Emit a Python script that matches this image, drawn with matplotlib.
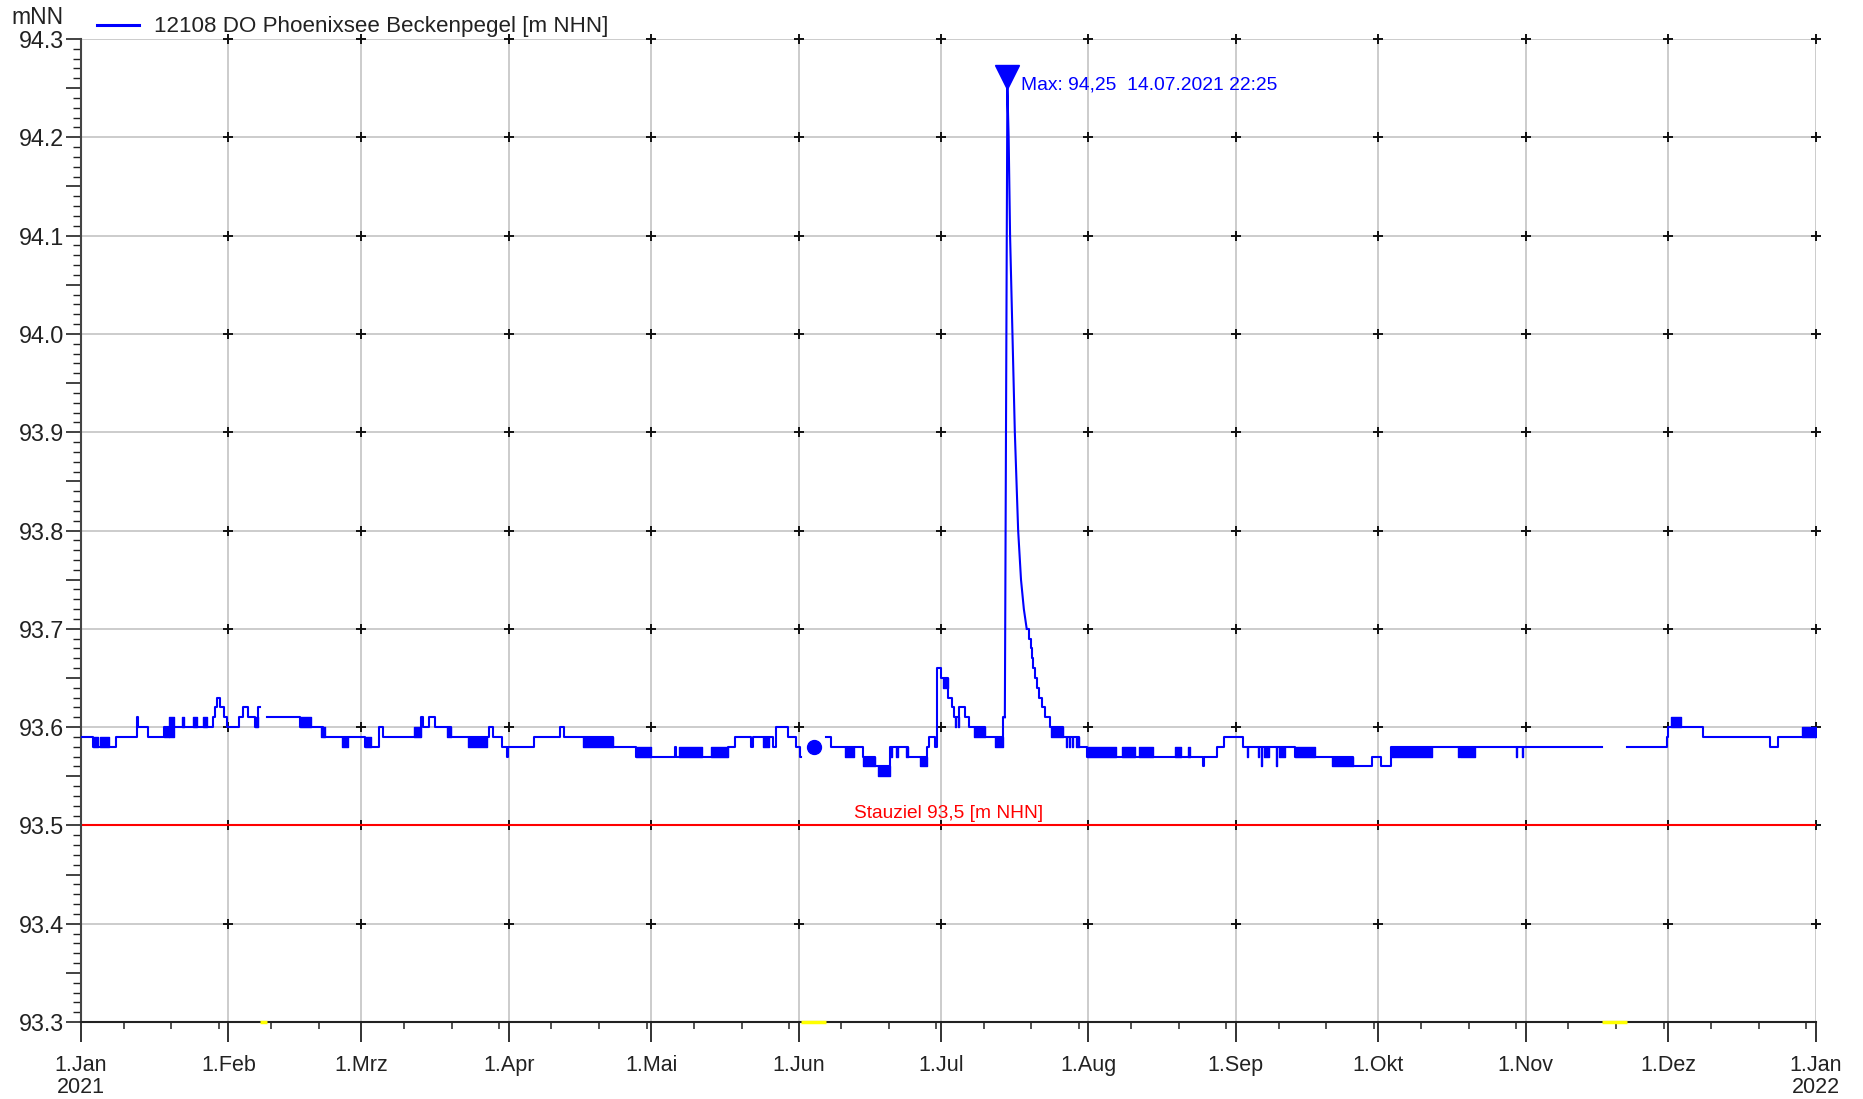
import numpy as np
import matplotlib
matplotlib.use("Agg")
import matplotlib.pyplot as plt
import matplotlib.dates as mdates
from matplotlib.ticker import MultipleLocator, FuncFormatter
from matplotlib.lines import Line2D
from matplotlib.transforms import offset_copy, blended_transform_factory

plt.rcParams['font.family'] = ['Liberation Sans', 'DejaVu Sans']

# ---------------- data ----------------
START = np.datetime64('2021-01-01T00:00')

# x axis: month starts and their labels
month_starts = ['2021-01-01', '2021-02-01', '2021-03-01', '2021-04-01', '2021-05-01',
                '2021-06-01', '2021-07-01', '2021-08-01', '2021-09-01', '2021-10-01',
                '2021-11-01', '2021-12-01', '2022-01-01']
month_labels = ['1.Jan\n2021', '1.Feb', '1.Mrz', '1.Apr', '1.Mai', '1.Jun', '1.Jul',
                '1.Aug', '1.Sep', '1.Okt', '1.Nov', '1.Dez', '1.Jan\n2022']
y_levels = [93.3, 93.4, 93.5, 93.6, 93.7, 93.8, 93.9, 94.0, 94.1, 94.2, 94.3]

# water level, step series (days since 1.Jan 2021, m NHN); NaN = data gap
step_day = [0.3, 2.6, 7.3, 11.7, 11.9, 14.2, 17.4, 27.7, 28.1, 28.7, 29.3, 30.0, 30.8,
            33.2, 34.0, 35.2, 36.6, 37.3, 37.7,
            39.1, 46.1, 50.9, 59.7, 62.7, 63.5, 71.6, 72.0, 73.2, 74.4, 77.9, 85.9,
            86.6, 88.6, 89.6, 89.8, 95.4, 100.7, 101.7, 112.0, 116.7,
            125.0, 125.15, 136.1, 137.7, 140.9, 141.4, 145.6, 146.2, 148.8, 150.4,
            151.3, 151.5,
            156.7, 157.9, 164.6, 167.0, 170.2, 174.1, 178.1, 178.5, 179.6, 180.1,
            180.9, 182.4, 183.2, 183.6, 184.8, 186.0, 186.8, 190.3, 194.1, 194.4,
            199.0, 199.4, 199.8, 200.1, 200.4, 200.7, 201.1, 201.6, 202.2, 202.9,
            203.8, 206.6, 210.1, 211.7, 236.2, 236.4, 239.0, 240.6, 244.5, 255.4,
            267.7, 271.6, 273.6, 275.6, 320.1,
            325.3, 333.7, 334.0, 341.3, 355.5, 357.1, 365.0]
step_level = [93.59, 93.58, 93.59, 93.61, 93.60, 93.59, 93.60, 93.61, 93.62, 93.63, 93.62,
              93.61, 93.60, 93.61, 93.62, 93.61, 93.60, 93.62, np.nan,
              93.61, 93.60, 93.59, 93.58, 93.60, 93.59, 93.61, 93.60, 93.61, 93.60,
              93.59, 93.60, 93.59, 93.58, 93.57, 93.58, 93.59, 93.60, 93.59, 93.58,
              93.57,
              93.58, 93.57, 93.58, 93.59, 93.58, 93.59, 93.58, 93.60, 93.59, 93.58,
              93.57, np.nan,
              93.59, 93.58, 93.57, 93.56, 93.58, 93.57, 93.58, 93.59, 93.58, 93.66,
              93.65, 93.63, 93.62, 93.61, 93.62, 93.61, 93.60, 93.59, 93.61, np.nan,
              93.70, 93.69, 93.68, 93.67, 93.66, 93.65, 93.64, 93.63, 93.62, 93.61,
              93.60, 93.59, 93.58, 93.57, 93.56, 93.57, 93.58, 93.59, 93.58, 93.57,
              93.56, 93.57, 93.56, 93.58, np.nan,
              93.58, 93.59, 93.60, 93.59, 93.58, 93.59, 93.59]

# rapid flicker between two levels: start day, end day, low, high
flick_start = [2.6, 3.9, 17.4, 18.6, 21.3, 23.6, 25.7, 36.6, 46.1, 50.6, 55.0, 59.7,
               70.0, 77.1, 81.5, 105.6, 116.7, 125.8, 132.6, 143.6, 160.7, 164.6,
               167.8, 170.2, 171.6, 173.6, 176.5, 181.4, 183.9, 184.5, 188.0, 192.3,
               204.2, 207.2, 207.9, 208.6, 209.3, 211.7, 219.0, 222.6, 230.3, 232.9,
               245.3, 247.7, 248.4, 249.0, 251.4, 252.0, 255.4, 263.3, 275.6, 289.7,
               290.2, 301.9, 303.3, 334.6, 362.2]
flick_end = [3.5, 5.9, 18.6, 19.5, 21.7, 24.5, 26.5, 37.3, 48.3, 51.3, 56.2, 61.0,
             71.6, 77.9, 85.5, 112.0, 119.9, 130.6, 136.1, 144.8, 162.6, 167.0,
             170.2, 170.6, 172.0, 174.1, 178.1, 182.4, 184.1, 184.7, 190.3, 194.1,
             206.6, 207.4, 208.1, 208.8, 210.1, 217.7, 221.8, 225.6, 231.5, 233.4,
             245.5, 247.9, 248.6, 249.9, 251.6, 253.3, 259.7, 267.7, 284.3, 289.9,
             293.4, 302.1, 303.5, 336.7, 365.0]
flick_low = [93.58, 93.58, 93.59, 93.59, 93.60, 93.60, 93.60, 93.60, 93.60, 93.59, 93.58,
             93.58, 93.59, 93.59, 93.58, 93.58, 93.57, 93.57, 93.57, 93.58, 93.57, 93.56,
             93.55, 93.57, 93.57, 93.57, 93.56, 93.64, 93.60, 93.60, 93.59, 93.58,
             93.59, 93.58, 93.58, 93.58, 93.58, 93.57, 93.57, 93.57, 93.57, 93.57,
             93.57, 93.57, 93.56, 93.57, 93.56, 93.57, 93.57, 93.56, 93.57, 93.57,
             93.57, 93.57, 93.57, 93.60, 93.59]
flick_high = [93.59, 93.59, 93.60, 93.61, 93.61, 93.61, 93.61, 93.61, 93.61, 93.60, 93.59,
              93.59, 93.60, 93.60, 93.59, 93.59, 93.58, 93.58, 93.58, 93.59, 93.58, 93.57,
              93.56, 93.58, 93.58, 93.58, 93.57, 93.65, 93.61, 93.61, 93.60, 93.59,
              93.60, 93.59, 93.59, 93.59, 93.59, 93.58, 93.58, 93.58, 93.58, 93.58,
              93.58, 93.58, 93.58, 93.58, 93.58, 93.58, 93.58, 93.57, 93.58, 93.58,
              93.58, 93.58, 93.58, 93.61, 93.60]

# flood event of 14.07.2021 (continuous curve)
flood_day = [194.4, 194.93, 195.2, 195.5, 196.0, 196.5, 197.2, 197.8, 198.4, 199.0]
flood_level = [93.61, 94.25, 94.20, 94.10, 94.00, 93.90, 93.80, 93.75, 93.72, 93.70]

# isolated single value in June gap
single_day = [154.2]
single_level = [93.58]

# data gaps marked on the time axis
gap_start = [37.7, 151.5, 320.1]
gap_end = [39.1, 156.7, 325.3]

peak_day = 194.93
peak_level = 94.25
stauziel = 93.5

BLUE = '#0000ff'


def to_dt(days):
    return START + (np.asarray(days, float) * 86400).astype('timedelta64[s]')


# ---------------- figure ----------------
fig = plt.figure(figsize=(18.63, 10.99), dpi=100)
ax = fig.add_axes([0.04348, 0.07006, 0.93107, 0.89445])

month_dt = np.array(month_starts, dtype='datetime64[s]')
ax.set_xlim(month_dt[0], month_dt[-1])
ax.set_ylim(y_levels[0], y_levels[-1])

# grid
for m in month_dt[1:]:
    ax.axvline(m, color='#c8c8c8', lw=1.3, zorder=0.5)
for lv in y_levels[1:]:
    ax.axhline(lv, color='#c8c8c8', lw=1.3, zorder=0.5)
MX, MY = np.meshgrid(mdates.date2num(month_dt[1:]), y_levels[1:])
ax.plot(MX.ravel(), MY.ravel(), '+', color='#111111', ms=7, mew=1.4,
        zorder=2, clip_on=False, linestyle='none')

# Stauziel
ax.axhline(stauziel, color='#ff0000', lw=1.5, zorder=2.5)
blend = blended_transform_factory(ax.transAxes, ax.transData)
ax.annotate('Stauziel 93,5 [m NHN]', xy=(0.5, stauziel), xycoords=blend,
            xytext=(0, 5), textcoords='offset points', ha='center', va='baseline',
            color='#ff0000', fontsize=13.8)

# data
ax.plot(to_dt(step_day), step_level, drawstyle='steps-post', color=BLUE, lw=1.5,
        zorder=3)
for s, e, lo, hi in zip(flick_start, flick_end, flick_low, flick_high):
    ax.fill_between(to_dt([s, e]), [lo, lo], [hi, hi], color=BLUE, lw=1.0,
                    edgecolor=BLUE, zorder=3)
ax.plot(to_dt(flood_day), flood_level, color=BLUE, lw=1.5, zorder=3)
ax.plot(to_dt(single_day), single_level, 'o', color=BLUE, ms=10, zorder=3)

# gaps on the axis
for s, e in zip(gap_start, gap_end):
    ax.plot(to_dt([s, e]), [y_levels[0], y_levels[0]], color='#ffff00', lw=2.5,
            zorder=5, clip_on=False, solid_capstyle='butt')

# max marker + annotation
tri = offset_copy(ax.transData, fig=fig, x=0, y=11.5, units='dots')
ax.plot(to_dt([peak_day]), [peak_level], 'v', color=BLUE, ms=17, transform=tri,
        zorder=4, clip_on=False)
ax.annotate('Max: 94,25  14.07.2021 22:25', xy=(to_dt([peak_day])[0], peak_level),
            xytext=(10, -0.8), textcoords='offset points', ha='left', va='baseline',
            color=BLUE, fontsize=13.9)

# axes styling
for s in ['top', 'right']:
    ax.spines[s].set_visible(False)
ax.spines['left'].set_linewidth(1.5)
ax.spines['left'].set_color('#444444')
ax.spines['bottom'].set_linewidth(1.5)
ax.spines['bottom'].set_color('#222222')

ax.set_xticks(month_dt)
ax.set_xticklabels(month_labels, linespacing=1.12)
ax.xaxis.set_minor_locator(mdates.DayLocator(bymonthday=[10, 20, 30]))
ax.yaxis.set_major_locator(MultipleLocator(0.05))
ax.yaxis.set_minor_locator(MultipleLocator(0.01))


def yfmt(v, _):
    if abs(round(v * 10) - v * 10) < 1e-6:
        return f'{v:.1f}'
    return ''


ax.yaxis.set_major_formatter(FuncFormatter(yfmt))

ax.tick_params(axis='x', which='major', length=14.4, width=1.3, pad=9,
               labelsize=15.5, colors='#222222')
ax.tick_params(axis='x', which='minor', length=5, width=1.1, colors='#222222')
ax.tick_params(axis='y', which='major', length=10.8, width=1.2, pad=1.5,
               labelsize=16.8, colors='#222222')
ax.tick_params(axis='y', which='minor', length=5.5, width=1.0, colors='#222222')

# unit label and legend above the plot
fig.text(64 / 1863, 1 - 24 / 1099, 'mNN', ha='right', va='baseline', fontsize=16.5,
         color='#222222')
fig.add_artist(Line2D([97 / 1863, 139 / 1863], [1 - 25 / 1099, 1 - 25 / 1099],
                      transform=fig.transFigure, color=BLUE, lw=2.2))
fig.text(154 / 1863, 1 - 31.7 / 1099, '12108 DO Phoenixsee Beckenpegel [m NHN]',
         ha='left', va='baseline', fontsize=16.1, color='#222222')

fig.savefig('out.png', dpi=100)
